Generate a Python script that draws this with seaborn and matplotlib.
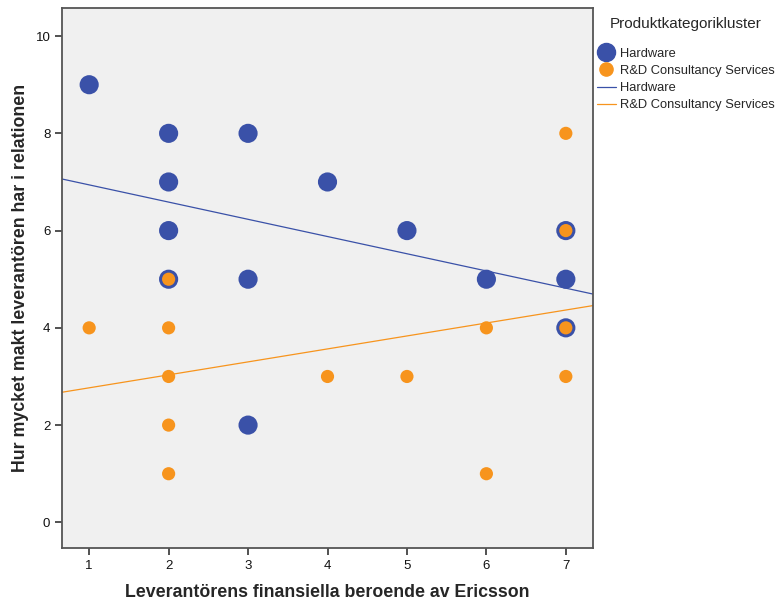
import pandas as pd
import matplotlib.pyplot as plt
import seaborn as sns
from matplotlib.lines import Line2D

# Leverantörens finansiella beroende (x) vs makt (y), per produktkategori
hw_x = [1, 2, 2, 2, 2, 3, 3, 3, 4, 5, 6, 7, 7, 7]
hw_y = [9, 8, 7, 6, 5, 8, 5, 2, 7, 6, 5, 6, 5, 4]
rd_x = [1, 2, 2, 2, 2, 2, 4, 5, 6, 6, 7, 7, 7, 7]
rd_y = [4, 5, 4, 3, 2, 1, 3, 3, 4, 1, 8, 6, 4, 3]

categories = ["Hardware", "R&D Consultancy Services"]
colors = {"Hardware": "#3A51A8", "R&D Consultancy Services": "#F7941D"}
sizes = {"Hardware": 190, "R&D Consultancy Services": 90}

df = pd.concat([
    pd.DataFrame({"x": hw_x, "y": hw_y, "kat": categories[0]}),
    pd.DataFrame({"x": rd_x, "y": rd_y, "kat": categories[1]}),
])

sns.set_style("ticks")
plt.rcParams["font.family"] = ["Liberation Sans", "DejaVu Sans"]

fig = plt.figure(figsize=(7.77, 6.07), dpi=100)
ax = fig.add_axes([0.080, 0.097, 0.683, 0.890])
ax.set_facecolor("#F0F0F0")
ax.set_xlim(0.66, 7.34)
ax.set_ylim(-0.53, 10.58)

for kat in categories:
    sub = df[df["kat"] == kat]
    sns.scatterplot(data=sub, x="x", y="y", color=colors[kat], s=sizes[kat],
                    edgecolor="none", ax=ax, zorder=3, legend=False)
    sns.regplot(data=sub, x="x", y="y", scatter=False, ci=None, truncate=False,
                color=colors[kat], line_kws={"lw": 0.9}, ax=ax)

ax.set_xticks(range(1, 8))
ax.set_yticks(range(0, 11, 2))
ax.tick_params(labelsize=9.5, length=5, width=1.2, color="#333333", labelcolor="#111111")
for s in ax.spines.values():
    s.set_visible(True)
    s.set_color("#555555")
    s.set_linewidth(1.3)

ax.set_xlabel("Leverantörens finansiella beroende av Ericsson",
              fontsize=12.8, fontweight="bold", labelpad=9)
ax.set_ylabel("Hur mycket makt leverantören har i relationen",
              fontsize=12.8, fontweight="bold", labelpad=5)

handles = [
    Line2D([], [], marker="o", ls="none", color=colors[categories[0]], markersize=13),
    Line2D([], [], marker="o", ls="none", color=colors[categories[1]], markersize=9.5),
    Line2D([], [], color=colors[categories[0]], lw=0.9),
    Line2D([], [], color=colors[categories[1]], lw=0.9),
]
labels = categories + categories
leg = fig.legend(handles, labels, title="Produktkategorikluster", loc="upper left",
                 bbox_to_anchor=(0.768, 0.972), frameon=False, fontsize=9.3,
                 title_fontsize=11, handlelength=1.5, handletextpad=0.3,
                 labelspacing=0.4, borderaxespad=0, borderpad=0)
leg._legend_box.sep = 12

fig.savefig("out.png", dpi=100)
